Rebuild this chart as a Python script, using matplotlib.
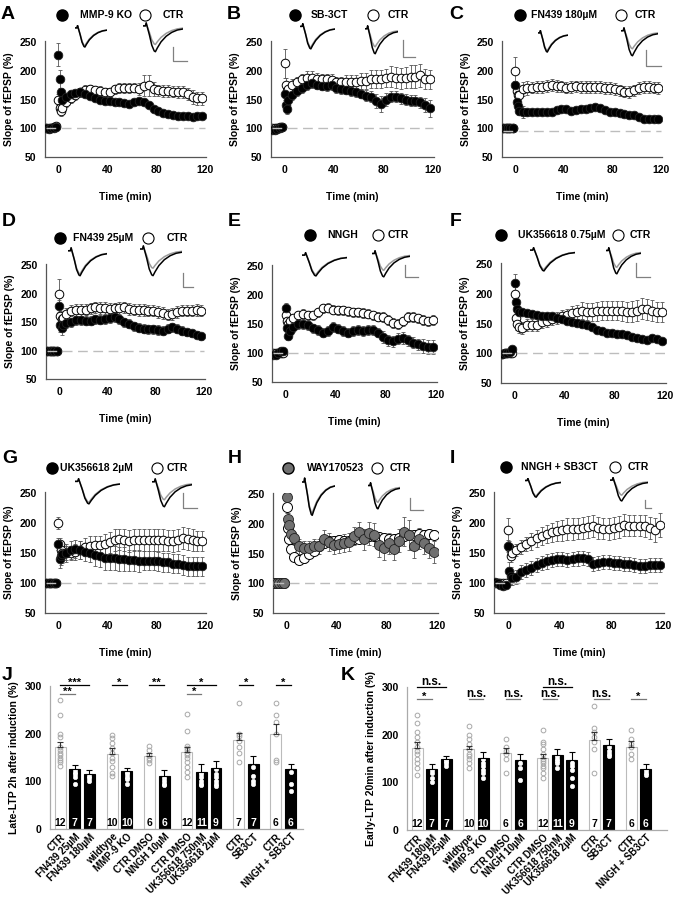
import matplotlib
matplotlib.use("Agg")
import matplotlib.pyplot as plt
from matplotlib.lines import Line2D

plt.rcParams['font.family'] = ['Liberation Sans', 'DejaVu Sans']
plt.rcParams['font.weight'] = 'bold'
plt.rcParams['axes.labelweight'] = 'bold'

# tiempo (min) de cada punto de las curvas
T = [-10, -8, -6, -4, -2, 0, 1, 2, 3, 6, 10, 14, 18, 22, 26, 30, 34, 38, 42,
     46, 50, 54, 58, 62, 66, 70, 74, 78, 82, 86, 90, 94, 98, 102, 106, 110, 114, 118]

# A: MMP-9 KO vs CTR
a_drug = [100, 99, 100, 101, 103, 228, 186, 163, 150,
          155, 160, 162, 163, 160, 157, 152, 150, 147, 148,
          146, 146, 144, 143, 145, 147, 146, 140, 134, 130,
          127, 125, 124, 122, 121, 121, 120, 121, 122]
a_drug_err = [2, 2, 2, 2, 2, 20, 15, 8, 6,
              5, 5, 5, 5, 5, 5, 5, 5, 5, 5,
              5, 5, 5, 5, 5, 5, 5, 5, 5, 5,
              5, 5, 5, 5, 5, 5, 5, 5, 5]
a_ctr = [100, 100, 101, 102, 104, 150, 136, 130, 135,
         145, 152, 158, 163, 167, 168, 166, 165, 163, 163,
         168, 170, 170, 170, 171, 168, 174, 175, 168, 166,
         165, 165, 164, 163, 163, 160, 154, 152, 152]
a_ctr_err = [3, 3, 3, 3, 3, 10, 8, 8, 8,
             8, 8, 8, 8, 8, 8, 8, 8, 8, 8,
             8, 8, 8, 8, 8, 10, 18, 18, 12, 10,
             10, 10, 10, 10, 10, 10, 12, 12, 12]

# B: SB-3CT vs CTR
b_drug = [97, 97, 98, 100, 103, 160, 140, 133, 150,
          158, 165, 170, 175, 178, 176, 174, 173, 175, 170,
          168, 167, 165, 163, 160, 157, 155, 148, 143, 150,
          155, 155, 152, 150, 148, 148, 145, 140, 135]
b_drug_err = [3, 3, 3, 3, 3, 10, 8, 8, 8,
              8, 8, 8, 8, 8, 8, 8, 8, 8, 8,
              8, 8, 8, 8, 8, 10, 10, 12, 14, 12,
              10, 10, 10, 10, 10, 10, 10, 12, 15]
b_ctr = [100, 101, 101, 102, 103, 213, 176, 165, 168,
         175, 180, 185, 187, 188, 186, 185, 185, 184, 180,
         180, 180, 181, 181, 182, 182, 186, 186, 186, 188,
         190, 188, 187, 188, 190, 190, 192, 186, 185]
b_ctr_err = [3, 3, 3, 3, 3, 25, 12, 10, 10,
             10, 10, 10, 12, 12, 10, 10, 10, 10, 10,
             10, 12, 12, 12, 14, 14, 15, 15, 16, 16,
             18, 18, 18, 18, 20, 20, 20, 18, 16]

# C: FN439 180uM vs CTR
c_drug = [100, 100, 100, 100, 100, 175, 145, 138, 130,
          128, 128, 128, 128, 129, 129, 129, 131, 133, 134,
          130, 131, 133, 133, 136, 137, 135, 131, 129, 128,
          126, 125, 124, 123, 119, 117, 117, 116, 116]
c_drug_err = [2, 2, 2, 2, 2, 8, 8, 6, 6,
              10, 6, 5, 5, 5, 5, 5, 5, 5, 5,
              5, 5, 5, 5, 5, 5, 5, 5, 5, 5,
              5, 5, 5, 5, 5, 5, 5, 5, 5]
c_ctr = [100, 100, 100, 100, 100, 200, 165, 158, 158,
         168, 170, 171, 172, 172, 174, 175, 174, 173, 171,
         172, 173, 172, 172, 172, 172, 172, 170, 170, 168,
         166, 164, 163, 166, 170, 172, 172, 171, 170]
c_ctr_err = [2, 2, 2, 2, 2, 25, 12, 10, 10,
             12, 12, 10, 10, 10, 10, 10, 10, 10, 10,
             10, 10, 10, 10, 10, 10, 10, 10, 10, 10,
             10, 10, 10, 10, 10, 10, 10, 10, 10]

# D: FN439 25uM vs CTR
d_drug = [100, 100, 100, 100, 100, 178, 145, 140, 145,
          148, 150, 153, 153, 152, 152, 155, 154, 155, 157,
          159, 155, 150, 147, 143, 140, 138, 137, 137, 136,
          135, 138, 141, 138, 135, 132, 130, 128, 125]
d_drug_err = [2, 2, 2, 2, 2, 10, 12, 12, 10,
              8, 8, 8, 8, 8, 8, 8, 8, 8, 8,
              8, 8, 8, 8, 8, 8, 8, 8, 8, 8,
              8, 8, 8, 8, 8, 6, 6, 6, 6]
d_ctr = [100, 100, 100, 100, 100, 200, 160, 155, 158,
         165, 170, 171, 171, 172, 174, 176, 175, 175, 173,
         174, 175, 176, 173, 172, 171, 171, 170, 170, 168,
         166, 163, 164, 168, 170, 170, 170, 171, 170]
d_ctr_err = [2, 2, 2, 2, 2, 25, 10, 10, 10,
             10, 10, 10, 10, 10, 10, 10, 10, 10, 10,
             10, 10, 10, 10, 10, 10, 10, 10, 10, 10,
             10, 10, 10, 10, 10, 10, 10, 10, 10]

# E: NNGH vs CTR
e_drug = [96, 96, 100, 103, 103, 178, 143, 130, 138,
          145, 150, 150, 148, 143, 140, 135, 138, 145, 142,
          138, 135, 138, 140, 138, 140, 140, 135, 128, 122,
          120, 125, 126, 122, 118, 115, 112, 111, 110]
e_drug_err = [3, 3, 3, 3, 3, 8, 8, 8, 8,
              8, 8, 8, 8, 8, 8, 8, 8, 8, 8,
              8, 8, 8, 8, 8, 8, 8, 8, 10, 10,
              10, 10, 10, 10, 10, 10, 12, 12, 12]
e_ctr = [100, 100, 100, 100, 100, 165, 155, 150, 155,
         160, 165, 168, 165, 165, 170, 177, 178, 175, 174,
         174, 172, 170, 170, 169, 168, 165, 163, 162, 157,
         152, 150, 155, 162, 162, 160, 157, 155, 157]
e_ctr_err = [3, 3, 3, 3, 3, 10, 10, 10, 8,
             8, 8, 8, 8, 8, 8, 8, 8, 8, 8,
             8, 8, 8, 8, 8, 8, 8, 8, 8, 8,
             8, 8, 8, 8, 8, 8, 8, 8, 8]

# F: UK356618 0.75uM vs CTR
f_drug = [99, 100, 101, 103, 107, 218, 187, 175, 170,
          170, 168, 166, 165, 163, 163, 162, 160, 157, 155,
          153, 151, 150, 148, 145, 140, 137, 135, 134, 133,
          133, 130, 128, 125, 124, 122, 126, 124, 121]
f_drug_err = [2, 2, 2, 2, 2, 15, 10, 6, 5,
              5, 5, 5, 4, 4, 4, 4, 4, 4, 4,
              4, 4, 4, 4, 4, 4, 4, 4, 4, 4,
              4, 4, 4, 4, 4, 4, 4, 4, 4]
f_ctr = [99, 100, 100, 100, 100, 200, 160, 150, 145,
         143, 148, 148, 148, 152, 155, 158, 160, 163, 165,
         167, 170, 172, 170, 170, 171, 172, 172, 172, 172,
         171, 170, 170, 172, 175, 174, 172, 170, 170]
f_ctr_err = [2, 2, 2, 2, 2, 12, 12, 10, 10,
             10, 10, 10, 10, 10, 10, 10, 10, 10, 10,
             12, 12, 14, 14, 15, 16, 16, 16, 16, 16,
             17, 17, 18, 18, 18, 18, 18, 17, 17]

# G: UK356618 2uM vs CTR
g_drug = [100, 100, 100, 100, 100, 165, 140, 145, 148,
          150, 155, 157, 155, 152, 150, 147, 145, 142, 142,
          142, 140, 140, 138, 138, 137, 137, 137, 137, 136,
          135, 135, 132, 132, 130, 128, 128, 128, 128]
g_drug_err = [2, 2, 2, 2, 2, 10, 15, 15, 15,
              15, 15, 15, 15, 15, 15, 18, 18, 20, 20,
              20, 20, 20, 18, 18, 18, 16, 16, 16, 16,
              16, 16, 16, 16, 16, 16, 16, 16, 16]
g_ctr = [100, 100, 100, 100, 100, 200, 165, 155, 150,
         150, 150, 152, 155, 160, 162, 163, 163, 165, 168,
         172, 173, 172, 170, 172, 172, 172, 172, 172, 172,
         172, 171, 170, 172, 175, 174, 172, 170, 170]
g_ctr_err = [2, 2, 2, 2, 2, 10, 10, 10, 10,
             12, 12, 14, 15, 15, 16, 16, 16, 17, 18,
             18, 18, 18, 18, 18, 18, 18, 18, 18, 18,
             18, 18, 18, 18, 18, 18, 18, 17, 17]

# H: WAY170523 vs CTR
h_drug = [100, 100, 100, 100, 100, 245, 208, 198, 183,
          176, 162, 160, 160, 162, 162, 174, 170, 165, 166,
          168, 170, 180, 186, 174, 184, 182, 165, 160, 167,
          158, 172, 187, 181, 163, 175, 168, 160, 153]
h_drug_err = [2, 2, 2, 2, 2, 10, 10, 10, 10,
              10, 12, 12, 12, 12, 12, 15, 15, 15, 15,
              15, 15, 15, 18, 18, 20, 20, 20, 20, 18,
              18, 20, 25, 25, 20, 18, 18, 18, 18]
h_ctr = [100, 100, 100, 100, 100, 228, 193, 175, 158,
         145, 140, 143, 150, 155, 162, 168, 172, 172, 173,
         172, 172, 174, 175, 178, 180, 180, 178, 176, 175,
         175, 176, 180, 182, 182, 183, 182, 183, 182]
h_ctr_err = [2, 2, 2, 2, 2, 10, 10, 8, 8,
             8, 8, 8, 8, 8, 8, 8, 8, 8, 8,
             8, 8, 8, 8, 8, 8, 8, 8, 8, 8,
             8, 8, 8, 8, 8, 8, 8, 8, 8]

# I: NNGH + SB3CT vs CTR
i_drug = [102, 100, 97, 95, 97, 162, 120, 112, 108,
          110, 118, 122, 125, 130, 133, 136, 138, 140, 140,
          138, 140, 141, 142, 140, 132, 133, 135, 135, 133,
          133, 132, 132, 130, 128, 128, 130, 130, 130]
i_drug_err = [3, 3, 3, 3, 3, 10, 15, 15, 12,
              12, 12, 12, 12, 12, 12, 12, 12, 12, 12,
              12, 12, 12, 12, 12, 12, 12, 12, 12, 12,
              12, 12, 12, 12, 12, 12, 12, 12, 12]
i_ctr = [100, 100, 100, 100, 100, 188, 160, 145, 150,
         155, 160, 165, 170, 175, 178, 182, 185, 187, 188,
         190, 190, 191, 192, 194, 195, 192, 191, 190, 192,
         194, 197, 196, 196, 196, 195, 192, 188, 197]
i_ctr_err = [3, 3, 3, 3, 3, 20, 10, 10, 10,
             10, 12, 12, 14, 14, 15, 15, 16, 16, 18,
             18, 18, 18, 18, 18, 18, 18, 18, 18, 18,
             18, 18, 18, 18, 18, 18, 18, 20, 20]

# forma de la traza fEPSP de ejemplo (normalizada)
tr_x = [0.00, 0.06, 0.08, 0.10, 0.16, 0.22, 0.28, 0.31, 0.36, 0.45, 0.58, 0.72, 0.86, 1.00]
tr_y = [0.00, 0.00, 0.12, 0.00, -0.35, -0.75, -0.97, -1.00, -0.85, -0.62, -0.40, -0.25, -0.16, -0.12]

# J / K: barras
groups = [3, 2, 2, 3, 2, 2]
dark = [0, 1, 1, 0, 1, 0, 1, 0, 1, 1, 0, 1, 0, 1]
n_cells = [12, 7, 7, 10, 10, 6, 6, 12, 11, 9, 7, 7, 6, 6]

j_labels = ['CTR', 'FN439 25µM', 'FN439 180µM', 'wildtype', 'MMP-9 KO', 'CTR DMSO', 'NNGH 10µM',
            'CTR DMSO', 'UK356618 750nM', 'UK356618 2µM', 'CTR', 'SB3CT', 'CTR', 'NNGH + SB3CT']
j_means = [172, 125, 116, 158, 122, 154, 111, 162, 120, 127, 186, 137, 199, 126]
j_sem = [11, 9, 7, 12, 7, 6, 12, 10, 16, 16, 16, 16, 21, 11]
j_dots = [[270, 240, 200, 193, 172, 165, 160, 155, 150, 145, 140, 133],
          [146, 130, 125, 120, 115, 110, 95],
          [146, 143, 125, 118, 112, 108, 100],
          [198, 191, 180, 170, 160, 150, 143, 130, 118, 112],
          [142, 137, 132, 128, 123, 120, 116, 110, 104, 95],
          [175, 165, 155, 150, 145, 138],
          [155, 115, 108, 100, 95, 93],
          [242, 205, 175, 170, 165, 160, 155, 150, 140, 130, 120, 110],
          [157, 150, 140, 130, 125, 120, 115, 110, 100, 95, 92],
          [200, 175, 135, 125, 115, 110, 100, 95, 90],
          [265, 200, 195, 185, 172, 160, 140],
          [203, 168, 140, 130, 112, 100, 95],
          [265, 240, 225, 200, 145, 140],
          [168, 140, 135, 120, 95, 80]]
j_sig = [(0, 2, '***', 302), (0, 1, '**', 283), (3, 4, '*', 302), (5, 6, '**', 302),
         (7, 9, '*', 302), (7, 8, '*', 283), (10, 11, '*', 302), (12, 13, '*', 302)]

k_labels = ['CTR', 'FN439 180µM', 'FN439 25µM', 'wildtype', 'MMP-9 KO', 'CTR DMSO', 'NNGH 10µM',
            'CTR DMSO', 'UK356618 750nM', 'UK356618 2µM', 'CTR', 'SB3CT', 'CTR', 'NNGH + SB3CT']
k_means = [172, 128, 150, 169, 151, 161, 147, 151, 158, 146, 188, 179, 175, 128]
k_sem = [12, 11, 6, 8, 12, 11, 12, 9, 12, 17, 17, 12, 11, 10]
k_dots = [[242, 225, 205, 195, 185, 175, 165, 160, 150, 140, 130, 115],
          [150, 140, 135, 125, 120, 110, 100],
          [170, 160, 150, 148, 145, 140, 135],
          [218, 200, 190, 180, 170, 160, 155, 150, 140, 130],
          [235, 200, 180, 160, 150, 140, 135, 125, 120, 110],
          [190, 175, 165, 160, 150, 120],
          [175, 160, 150, 140, 130, 105],
          [210, 185, 180, 170, 160, 150, 145, 140, 135, 130, 120, 110],
          [195, 185, 175, 170, 165, 160, 155, 150, 145, 140, 130],
          [230, 180, 165, 150, 140, 135, 125, 110, 92],
          [260, 215, 205, 195, 185, 170, 120],
          [210, 200, 190, 175, 165, 160, 155],
          [210, 190, 180, 175, 160, 150],
          [162, 135, 130, 125, 120, 115]]
k_sig = [(0, 2, 'n.s.', 300), (0, 1, '*', 275), (3, 4, 'n.s.', 275), (5, 6, 'n.s.', 275),
         (7, 9, 'n.s.', 300), (7, 8, 'n.s.', 275), (10, 11, 'n.s.', 275), (12, 13, '*', 275)]

W, H = 673, 900
fig = plt.figure(figsize=(6.73, 9.0), dpi=100)


def px_axes(x0, y0, x1, y1):
    return fig.add_axes([x0 / W, 1 - y1 / H, (x1 - x0) / W, (y1 - y0) / H])


def fx(x):
    return x / W


def fy(y):
    return 1 - y / H


def style_axes(ax, spine_color):
    for s in ['top', 'right']:
        ax.spines[s].set_visible(False)
    for s in ['left', 'bottom']:
        ax.spines[s].set_color(spine_color)
        ax.spines[s].set_linewidth(0.9)
    ax.tick_params(length=0, labelsize=7.5, pad=6)


def draw_trace(box, gray_scale):
    t = px_axes(*box)
    t.axis('off')
    t.plot(tr_x, [v * gray_scale for v in tr_y], color='#9a9a9a', lw=1.1)
    t.plot(tr_x, tr_y, color='black', lw=1.1)
    t.set_xlim(0, 1)
    t.set_ylim(-1.05, 0.15)


time_panels = [
    ('A', (45, 41, 206, 157), a_drug, a_drug_err, a_ctr, a_ctr_err, 'MMP-9 KO', 'black',
     (15, 62, 80, 145, 163), (75, 25, 107, 48), (143, 22, 183, 53), (173, 47, 61, 187), (1, 6), 100),
    ('B', (271, 41, 434, 157), b_drug, b_drug_err, b_ctr, b_ctr_err, 'SB-3CT', 'black',
     (15, 295, 311, 373, 388), (300, 23, 335, 50), (365, 25, 398, 55), (403, 40, 57, 415), (227, 6), 100),
    ('C', (502, 41, 662, 157), c_drug, c_drug_err, c_ctr, c_ctr_err, 'FN439 180µM', 'black',
     (15, 520, 531, 621, 635), (538, 30, 568, 53), (621, 27, 658, 57), (646, 50, 66, 661), (449, 6), 95),
    ('D', (46, 264, 205, 379), d_drug, d_drug_err, d_ctr, d_ctr_err, 'FN439 25µM', 'black',
     (238, 60, 73, 148, 167), (68, 247, 107, 277), (140, 245, 182, 277), (183, 273, 287, 193), (2, 213), 100),
    ('E', (272, 265, 437, 382), e_drug, e_drug_err, e_ctr, e_ctr_err, 'NNGH', 'black',
     (235, 310, 327, 378, 388), (302, 252, 347, 277), (372, 250, 410, 278), (405, 265, 277, 418), (228, 213), 100),
    ('F', (501, 263, 666, 383), f_drug, f_drug_err, f_ctr, f_ctr_err, 'UK356618 0.75µM', 'black',
     (235, 501, 518, 618, 630), (530, 247, 575, 272), (606, 247, 641, 275), (636, 263, 277, 650), (450, 213), 100),
    ('G', (45, 492, 206, 613), g_drug, g_drug_err, g_ctr, g_ctr_err, 'UK356618 2µM', 'black',
     (468, 52, 60, 157, 167), (75, 478, 120, 505), (152, 478, 192, 508), (183, 493, 508, 197), (2, 450), 100),
    ('H', (273, 493, 438, 613), h_drug, h_drug_err, h_ctr, h_ctr_err, 'WAY170523', '#707070',
     (468, 288, 307, 377, 390), (302, 477, 335, 517), (368, 482, 400, 510), (410, 498, 510, 423), (228, 450), 100),
    ('I', (494, 492, 664, 613), i_drug, i_drug_err, i_ctr, i_ctr_err, 'NNGH + SB3CT', 'black',
     (467, 506, 521, 615, 628), (525, 478, 561, 498), (610, 477, 648, 502), (645, 500, 508, 651), (450, 450), 100),
]

for (letter, box, drug, drug_err, ctr, ctr_err, name, dcol,
     leg, t1, t2, sb, lxy, base_y) in time_panels:
    ax = px_axes(*box)
    ms = 7.2 if letter == 'H' else 6.2
    ax.errorbar(T, ctr, yerr=ctr_err, fmt='none', ecolor='#555555', elinewidth=0.6,
                capsize=1.6, capthick=0.6, zorder=1)
    ax.errorbar(T, drug, yerr=drug_err, fmt='none', ecolor='#555555', elinewidth=0.6,
                capsize=1.6, capthick=0.6, zorder=1)
    ax.plot(T, ctr, 'o', ms=ms, mfc='white', mec='black', mew=0.7, zorder=2)
    ax.plot(T, drug, 'o', ms=ms, mfc=dcol, mec='#222222', mew=0.6, zorder=3)
    ax.plot([-10, 120], [base_y, base_y], ls=(0, (7, 4)), color='#bdbdbd', lw=1.0, zorder=5)
    ax.set_xlim(-11, 121)
    ax.set_ylim(50, 252)
    ax.set_xticks([0, 40, 80, 120])
    ax.set_yticks([50, 100, 150, 200, 250])
    style_axes(ax, '#555555')
    ax.set_xlabel('Time (min)', fontsize=7.5, labelpad=12)
    ax.set_ylabel('Slope of fEPSP (%)', fontsize=7.5, labelpad=4)

    # leyenda
    ym, xm1, xt1, xm2, xt2 = leg
    fig.add_artist(Line2D([fx(xm1)], [fy(ym)], marker='o', ms=8, mfc=dcol, mec='black', ls='none'))
    fig.add_artist(Line2D([fx(xm2)], [fy(ym)], marker='o', ms=8, mfc='white', mec='black', mew=0.8, ls='none'))
    fig.text(fx(xt1), fy(ym), name, fontsize=7.5, va='center', ha='left')
    fig.text(fx(xt2), fy(ym), 'CTR', fontsize=7.5, va='center', ha='left')

    # trazas de ejemplo y barra de escala
    draw_trace(t1, 0.93)
    draw_trace(t2, 0.72)
    xs, yt, yb, xr = sb
    fig.add_artist(Line2D([fx(xs), fx(xs), fx(xr)], [fy(yt), fy(yb), fy(yb)], color='#808080', lw=0.9))

    fig.text(fx(lxy[0]), fy(lxy[1]), letter, fontsize=14, va='top', ha='left')

# posiciones de las barras
pos = []
p = 0.0
for g in groups:
    for k in range(g):
        pos.append(p)
        p += 1
    p += 0.55


def draw_bars(ax, means, sem, dots, labels, sigs, ylabel, xmax):
    for i, x in enumerate(pos):
        if dark[i]:
            ax.bar(x, means[i], width=0.75, color='black', edgecolor='black', lw=0.8, zorder=1)
            ax.plot([x] * len(dots[i]), dots[i], 'o', ms=3.2, mfc='white', mec='white', mew=0.4, zorder=2)
            ax.text(x, 13, str(n_cells[i]), color='white', ha='center', va='center', fontsize=7.5, zorder=4)
        else:
            ax.bar(x, means[i], width=0.75, color='white', edgecolor='#bbbbbb', lw=0.8, zorder=1)
            ax.plot([x] * len(dots[i]), dots[i], 'o', ms=3.4, mfc='none', mec='#a8a8a8', mew=0.7, zorder=2)
            ax.text(x, 13, str(n_cells[i]), color='black', ha='center', va='center', fontsize=7.5, zorder=4)
        ecol = '#333333' if not dark[i] else 'black'
        ax.errorbar(x, means[i], yerr=[[0], [sem[i]]], fmt='none', ecolor=ecol, elinewidth=0.8,
                    capsize=2.2, capthick=0.8, zorder=3)
    for a, b, txt, y in sigs:
        col = 'black' if y >= 295 else '#777777'
        ax.plot([pos[a], pos[b]], [y, y], color=col, lw=0.9, clip_on=False)
        if txt == 'n.s.':
            ax.text((pos[a] + pos[b]) / 2, y - 3, txt, ha='center', va='bottom', fontsize=8.5, clip_on=False)
        else:
            ax.text((pos[a] + pos[b]) / 2, y - 6, txt, ha='center', va='bottom', fontsize=8, clip_on=False)
    ax.set_xlim(-0.7, xmax)
    ax.set_ylim(0, 300)
    ax.set_yticks([0, 100, 200, 300])
    ax.set_xticks(pos)
    style_axes(ax, '#aaaaaa')
    ax.tick_params(axis='x', pad=2)
    ax.set_xticklabels(labels, rotation=45, ha='right', rotation_mode='anchor', fontsize=7)
    ax.set_ylabel(ylabel, fontsize=7.5, labelpad=4)


axj = px_axes(50, 686, 303, 829)
draw_bars(axj, j_means, j_sem, j_dots, j_labels, j_sig, 'Late-LTP 2h after induction (%)', 16.6)
fig.text(fx(2), fy(667), 'J', fontsize=14, va='top', ha='left')

axk = px_axes(407, 687, 667, 830)
draw_bars(axk, k_means, k_sem, k_dots, k_labels, k_sig, 'Early-LTP 20min after induction (%)', 17.2)
fig.text(fx(341), fy(667), 'K', fontsize=14, va='top', ha='left')

fig.savefig('out.png', dpi=100)
